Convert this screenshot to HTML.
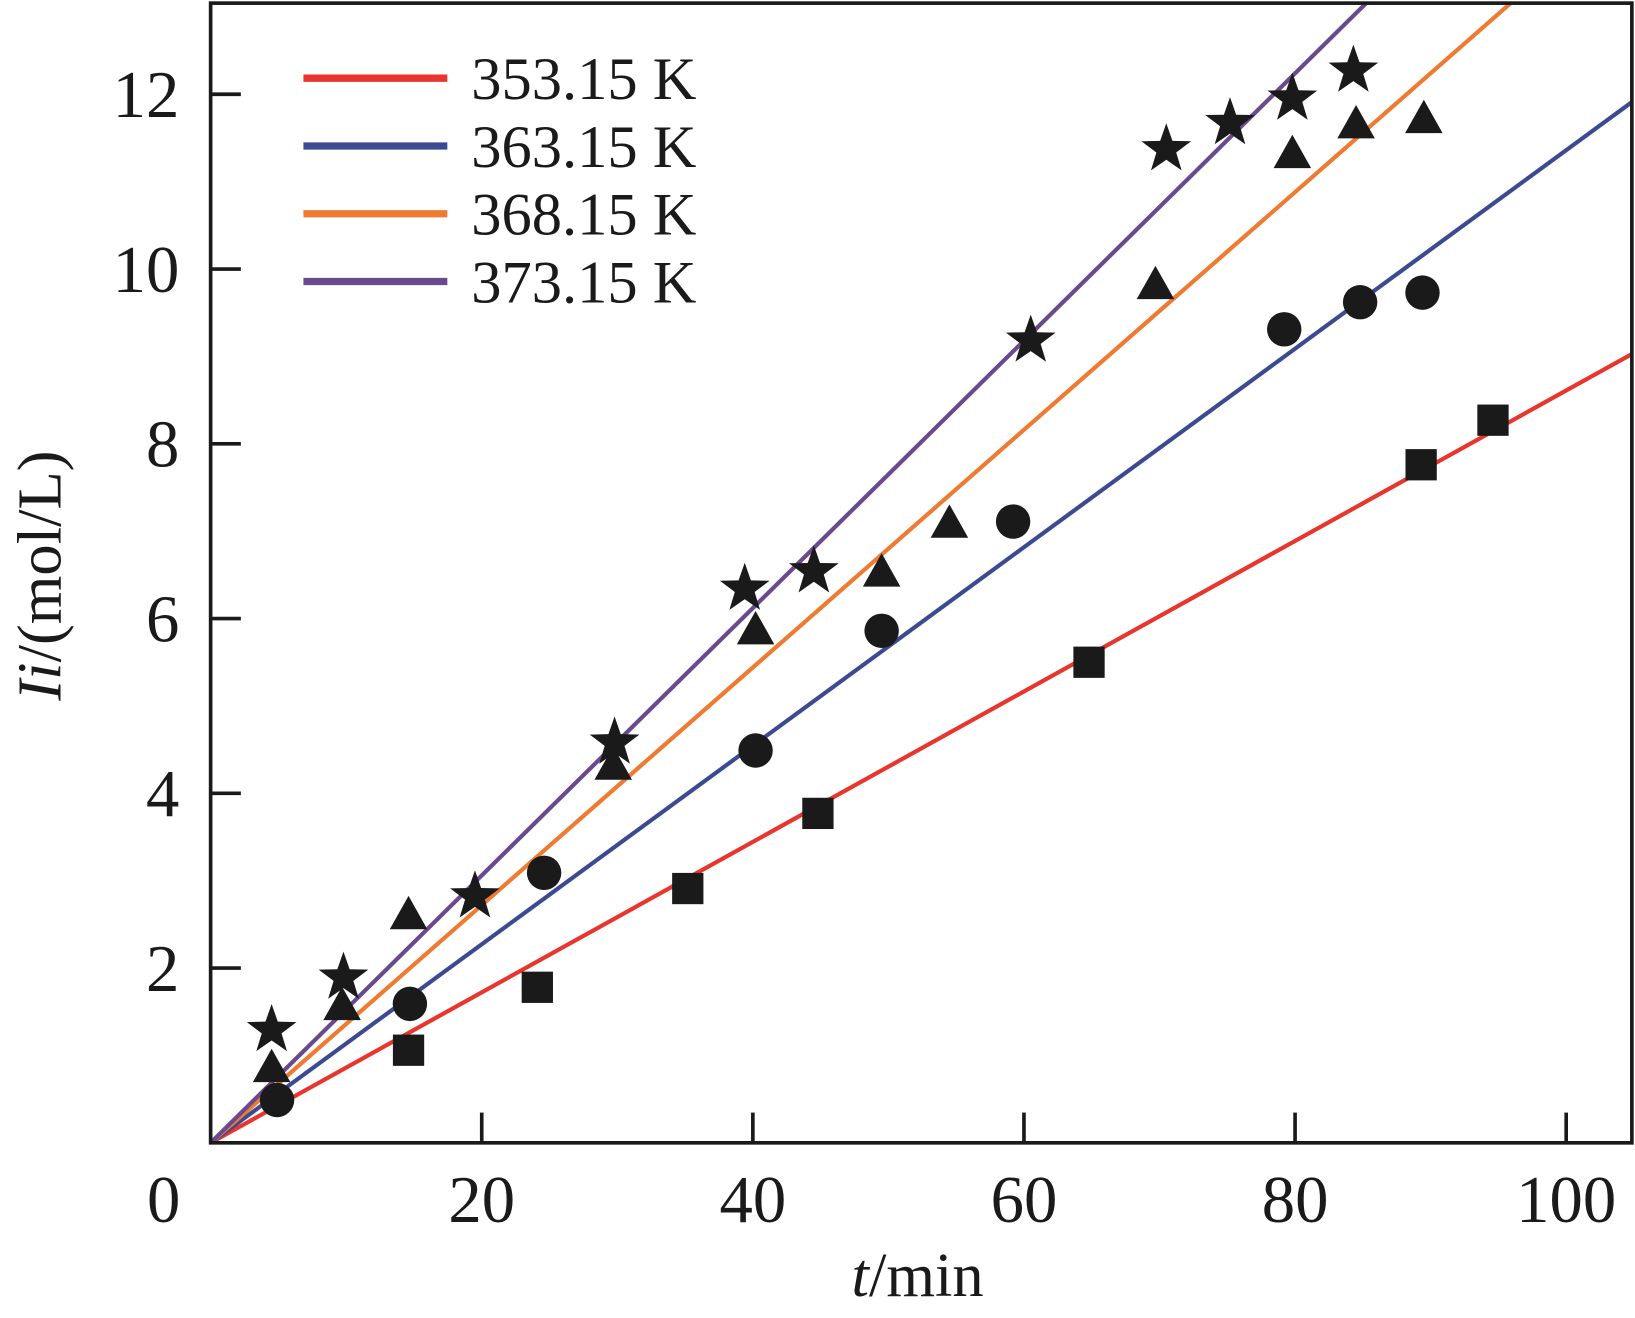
<!DOCTYPE html>
<html><head><meta charset="utf-8"><style>
html,body{margin:0;padding:0;background:#fff;}
svg{display:block;}
text{font-family:"Liberation Serif","Times New Roman",serif;fill:#1a1a1a;}
</style></head><body>
<svg id="chart" width="1635" height="1318" viewBox="0 0 1568 1264" preserveAspectRatio="none" xmlns="http://www.w3.org/2000/svg">
<g id="plot"></g>
</svg>
<script>
const xTicks=[20,40,60,80,100];
const yTicks=[2,4,6,8,10,12];
const seriesNames=["353.15 K","363.15 K","368.15 K","373.15 K"];
const seriesColors=["#e8352e","#3c4a92","#ef7a32","#6a4a8f"];
const fitSlopes=[0.0861,0.1136,0.136,0.153];
const sqT=[14.6,24.1,35.2,44.8,64.8,89.3,94.6];
const sqV=[1.06,1.78,2.91,3.77,5.5,7.76,8.27];
const ciT=[4.9,14.7,24.6,40.2,49.5,59.2,79.2,84.8,89.4];
const ciV=[0.49,1.59,3.09,4.49,5.86,7.11,9.31,9.62,9.73];
const trT=[4.5,9.7,14.6,29.7,40.2,49.5,54.5,69.7,79.8,84.5,89.5];
const trV=[0.85,1.56,2.6,4.31,5.86,6.52,7.08,9.81,11.31,11.65,11.71];
const stT=[4.5,9.8,19.5,29.8,39.4,44.5,60.5,70.5,75.2,79.8,84.3];
const stV=[1.29,1.89,2.82,4.58,6.34,6.54,9.18,11.37,11.67,11.95,12.27];

const NS="http://www.w3.org/2000/svg";
const L=202,R=1565,T=3,B=1096;
const xMax=(R-L)/13, yMax=(B-T)/83.8;
const X=v=>L+v*13, Y=v=>B-v*83.8;
const g=document.getElementById('plot');
function mk(tag,attrs,parent){const e=document.createElementNS(NS,tag);for(const k in attrs)e.setAttribute(k,attrs[k]);(parent||g).appendChild(e);return e;}

const defs=mk('defs',{});
const cp=mk('clipPath',{id:'clip'},defs);
mk('rect',{x:L,y:T,width:R-L,height:B-T},cp);

const lines=mk('g',{'clip-path':'url(#clip)'});
fitSlopes.forEach((s,i)=>{
  const l=mk('line',{x1:X(0),y1:Y(0),x2:X(xMax),y2:Y(s*xMax),stroke:seriesColors[i],'stroke-width':4},lines);
  
  
});

function sq(t,v){const r=mk('rect',{x:X(t)-15,y:Y(v)-15,width:30,height:30,fill:'#1a1a1a'});}
function ci(t,v){const c=mk('circle',{cx:X(t),cy:Y(v),r:16.5,fill:'#1a1a1a'});}
function tr(t,v){const x=X(t),y=Y(v);const p=mk('polygon',{points:`${x},${y-19} ${x-18},${y+13} ${x+18},${y+13}`,fill:'#1a1a1a'});}
function st(t,v){const x=X(t),y=Y(v);let pts=[];for(let k=0;k<10;k++){const a=-Math.PI/2+k*Math.PI/5;const rr=k%2?10:25;pts.push((x+rr*Math.cos(a)).toFixed(1)+','+(y+rr*Math.sin(a)).toFixed(1));}const p=mk('polygon',{points:pts.join(' '),fill:'#1a1a1a'});}
sqT.forEach((t,i)=>sq(t,sqV[i]));
ciT.forEach((t,i)=>ci(t,ciV[i]));
trT.forEach((t,i)=>tr(t,trV[i]));
stT.forEach((t,i)=>st(t,stV[i]));

const box=mk('rect',{x:L,y:T,width:R-L,height:B-T,fill:'none',stroke:'#1a1a1a','stroke-width':3.5});



xTicks.forEach(v=>{
  mk('line',{x1:X(v),y1:B,x2:X(v),y2:B-29,stroke:'#1a1a1a','stroke-width':3.5});
  const t=mk('text',{x:X(v),y:1172,'text-anchor':'middle','font-size':64});t.textContent=v;
  
  
});
yTicks.forEach(v=>{
  mk('line',{x1:L,y1:Y(v),x2:L+29,y2:Y(v),stroke:'#1a1a1a','stroke-width':3.5});
  const t=mk('text',{x:172,y:Y(v)+22,'text-anchor':'end','font-size':64});t.textContent=v;
  
  
});
const z=mk('text',{x:157,y:1172,'text-anchor':'middle','font-size':64});z.textContent='0';



const xt=mk('text',{x:880,y:1243,'text-anchor':'middle','font-size':60});
xt.innerHTML='<tspan font-style="italic">t</tspan>/min';


const yt=mk('text',{x:0,y:0,'text-anchor':'middle','font-size':60,transform:'translate(58,552) rotate(-90)'});
yt.innerHTML='<tspan font-style="italic">Ii</tspan>/(mol/L)';



const leg=mk('g',{});


seriesNames.forEach((n,i)=>{
  const y=75+i*65;
  const e=mk('g',{},leg);
  
  
  mk('line',{x1:291,y1:y,x2:429,y2:y,stroke:seriesColors[i],'stroke-width':7},e);
  const t=mk('text',{x:452,y:y+20,'font-size':58},e);t.textContent=n;
});
</script>
</body></html>
